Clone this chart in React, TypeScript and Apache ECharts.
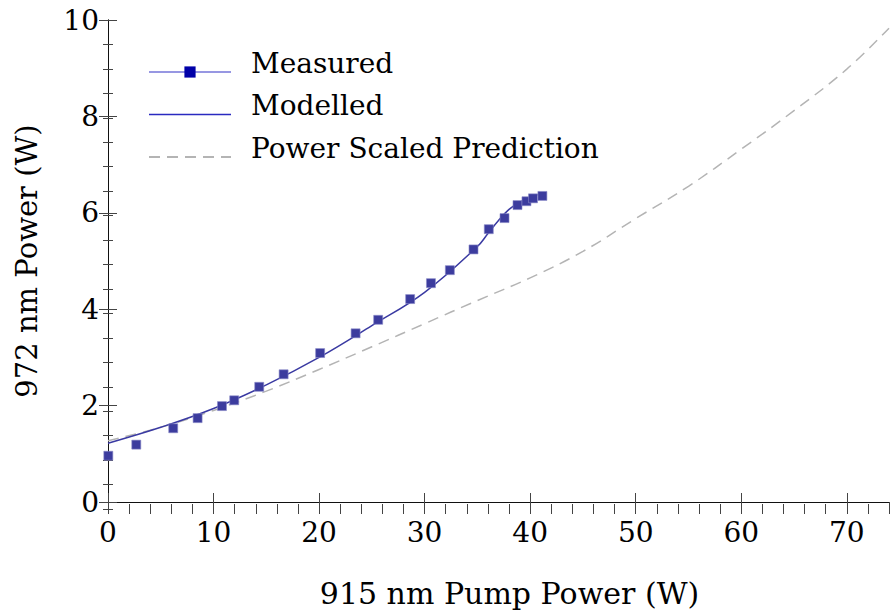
import React, { useEffect, useRef } from "react";
import * as echarts from "echarts";

const measuredX = [0.03, 2.68, 6.18, 8.49, 10.8, 11.96, 14.33, 16.64, 20.1, 23.46, 25.6, 28.63, 30.6, 32.39, 34.63, 36.08, 37.57, 38.8, 39.65, 40.27, 41.16];
const measuredY = [0.96, 1.19, 1.53, 1.74, 1.99, 2.11, 2.39, 2.65, 3.09, 3.5, 3.78, 4.21, 4.54, 4.81, 5.24, 5.66, 5.89, 6.16, 6.24, 6.3, 6.35];

const modelX = [0, 5, 10, 15, 20, 25, 30, 35, 36, 37, 38, 39, 40, 41.1];
const modelY = [1.22, 1.55, 1.94, 2.43, 3.0, 3.66, 4.35, 5.3, 5.57, 5.84, 6.07, 6.22, 6.32, 6.4];

const predX = [0, 5, 10, 15, 20, 25, 30, 35, 40, 45, 50, 55, 60, 65, 70, 74];
const predY = [1.27, 1.55, 1.9, 2.3, 2.75, 3.22, 3.7, 4.18, 4.65, 5.2, 5.88, 6.55, 7.32, 8.12, 8.98, 9.83];

const xTitle = "915 nm Pump Power (W)";
const yTitle = "972 nm Power (W)";
const seriesNames = ["Measured", "Modelled", "Power Scaled Prediction"];

const zip = (xs: number[], ys: number[]) => xs.map((x, i) => [x, ys[i]]);

export default function App() {
  const ref = useRef<HTMLDivElement>(null);
  useEffect(() => {
    document.body.style.margin = "0";
    const chart = echarts.init(ref.current!, null, { renderer: "svg" });
    const serif = "DejaVu Serif";
    const gridBox = { left: 108, right: 1, top: 20, bottom: 104 };
    const axisLine = { show: true, lineStyle: { color: "#111", width: 1 } };
    const majorTick = { show: true, inside: true, length: 9, lineStyle: { color: "#444", width: 1 } };
    const minorTick = { show: true, inside: true, length: 5, lineStyle: { color: "#444", width: 1 } };
    const labelStyle = { fontFamily: serif, fontSize: 28, color: "#000" };
    chart.setOption({
      animation: false,
      backgroundColor: "#fff",
      grid: [
        { ...gridBox },
        { ...gridBox },
      ],
      legend: {
        orient: "vertical",
        left: 148,
        top: 49,
        padding: 0,
        itemGap: -3.5,
        itemWidth: 82,
        itemHeight: 14,
        formatter: "{t|{name}}",
        textStyle: {
          fontFamily: serif, fontSize: 28, color: "#000",
          rich: { t: { fontFamily: serif, fontSize: 28, color: "#000", lineHeight: 28, padding: [0, 0, 18, 15] } },
        },
        data: [
          { name: seriesNames[0], itemStyle: { color: "#0000a8", borderWidth: 0 }, lineStyle: { color: "#7474d8", width: 1.5, opacity: 1 } },
          { name: seriesNames[1], itemStyle: { opacity: 0 }, lineStyle: { color: "#2a2ac0", width: 1.5 } },
          { name: seriesNames[2], itemStyle: { opacity: 0 } },
        ],
      },
      xAxis: [
        {
          type: "value", gridIndex: 0, position: "bottom", min: 0, max: 74, interval: 10,
          axisLine, axisTick: majorTick, splitLine: { show: false },
          axisLabel: { ...labelStyle, margin: 16, showMaxLabel: false },
          name: xTitle, nameLocation: "middle", nameGap: 76,
          nameTextStyle: { fontFamily: serif, fontSize: 30, color: "#000", padding: [0, 0, 0, 22] },
        },
        {
          type: "value", gridIndex: 0, position: "top", min: 0, max: 74, interval: 10,
          axisLine, axisTick: majorTick, splitLine: { show: false }, axisLabel: { show: false },
        },
        {
          type: "value", gridIndex: 1, position: "bottom", min: 0, max: 74, interval: 2,
          axisLine: { show: false }, axisTick: minorTick, splitLine: { show: false }, axisLabel: { show: false },
        },
        {
          type: "value", gridIndex: 1, position: "top", min: 0, max: 74, interval: 2,
          axisLine: { show: false }, axisTick: minorTick, splitLine: { show: false }, axisLabel: { show: false },
        },
      ],
      yAxis: [
        {
          type: "value", gridIndex: 0, position: "left", min: 0, max: 10, interval: 2,
          axisLine, axisTick: majorTick, splitLine: { show: false },
          axisLabel: { ...labelStyle, margin: 9 },
          name: yTitle, nameLocation: "middle", nameGap: 67,
          nameTextStyle: { fontFamily: serif, fontSize: 29, color: "#000" },
        },
        {
          type: "value", gridIndex: 0, position: "right", min: 0, max: 10, interval: 2,
          axisLine, axisTick: majorTick, splitLine: { show: false }, axisLabel: { show: false },
        },
        {
          type: "value", gridIndex: 1, position: "left", min: 0, max: 10, interval: 0.5,
          axisLine: { show: false }, axisTick: minorTick, splitLine: { show: false }, axisLabel: { show: false },
        },
        {
          type: "value", gridIndex: 1, position: "right", min: 0, max: 10, interval: 0.5,
          axisLine: { show: false }, axisTick: minorTick, splitLine: { show: false }, axisLabel: { show: false },
        },
      ],
      series: [
        {
          name: seriesNames[2], type: "line", xAxisIndex: 0, yAxisIndex: 0,
          data: zip(predX, predY), smooth: 0.4, showSymbol: false, symbol: "none",
          lineStyle: { color: "#b4b4b4", width: 1.5, type: [11, 7] }, itemStyle: { color: "#b4b4b4" }, z: 2,
        },
        {
          name: seriesNames[1], type: "line", xAxisIndex: 0, yAxisIndex: 0,
          data: zip(modelX, modelY), smooth: 0.4, showSymbol: false, symbol: "none",
          lineStyle: { color: "#3a3aa2", width: 1.5 }, itemStyle: { color: "#3a3aa2" }, z: 3,
        },
        {
          name: seriesNames[0], type: "line", xAxisIndex: 0, yAxisIndex: 0,
          data: zip(measuredX, measuredY), symbol: "rect", symbolSize: 9, showSymbol: true,
          lineStyle: { width: 0, opacity: 0 },
          itemStyle: { color: "#3c3c9e", borderColor: "#8a8ac8", borderWidth: 0.6 }, z: 4,
        },
      ],
    });
    return () => chart.dispose();
  }, []);
  return <div ref={ref} style={{ width: 890, height: 613 }} />;
}
